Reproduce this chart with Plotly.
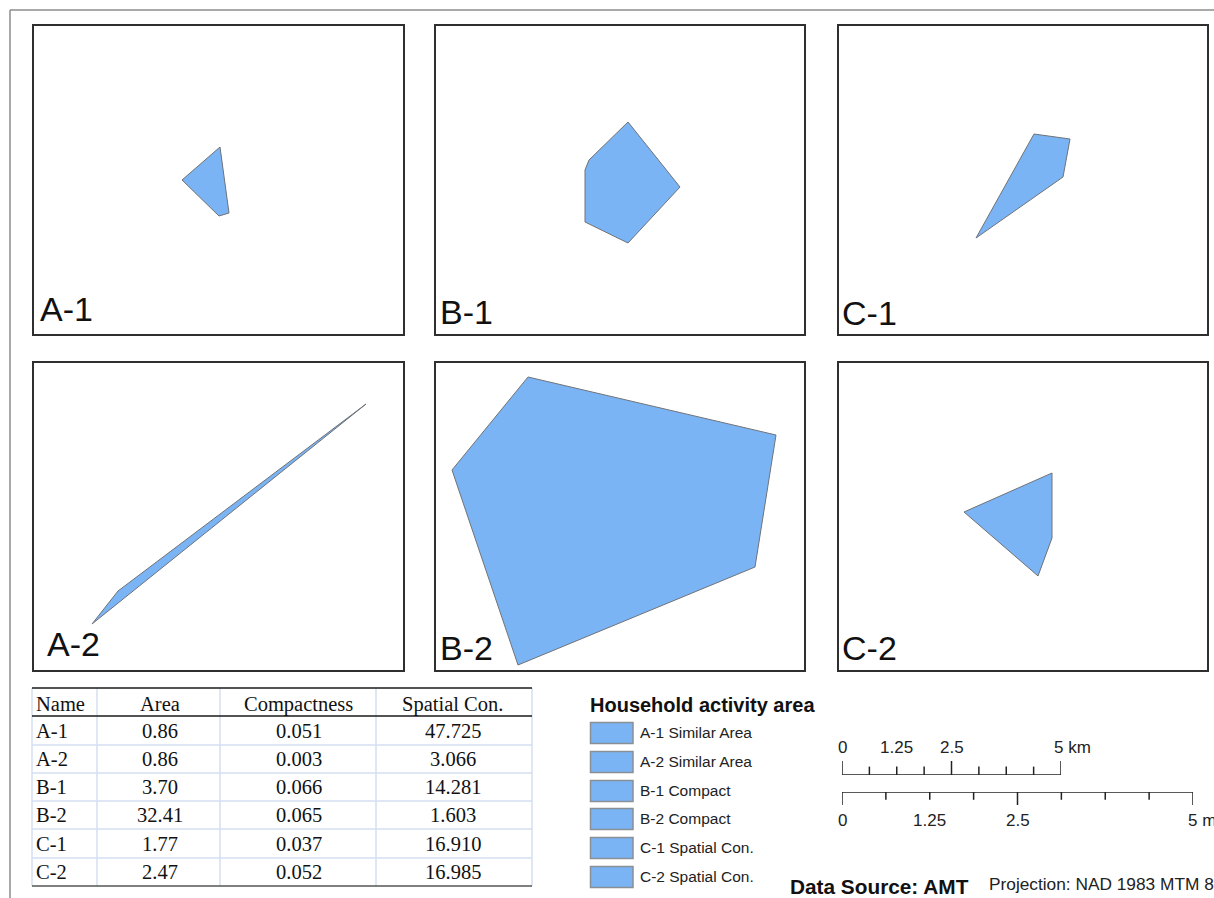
import plotly.graph_objects as go

W, H = 1214, 898
FILL = "#7ab4f5"
EDGE = "#6f7378"
SANS = "Liberation Sans, Arial, sans-serif"
SERIF = "Liberation Serif, Times New Roman, serif"

# Panels (map units, origin at the lower-left corner of each frame)
panel_names = ["A-1", "B-1", "C-1", "A-2", "B-2", "C-2"]
a1_x = [187, 149, 186, 196]
a1_y = [188, 155, 119, 122]
b1_x = [193, 245, 193, 150, 150, 154]
b1_y = [213, 148, 92, 113, 165, 175]
c1_x = [196, 232, 225, 138]
c1_y = [201, 196, 158, 97]
a2_x = [59, 85, 333]
a2_y = [47, 80, 267]
b2_x = [93, 341, 320, 83, 17]
b2_y = [294, 236, 104, 6, 201]
c2_x = [214, 126, 200, 214]
c2_y = [198, 159, 95, 133]
panel_xs = [a1_x, b1_x, c1_x, a2_x, b2_x, c2_x]
panel_ys = [a1_y, b1_y, c1_y, a2_y, b2_y, c2_y]

# Table
table_header = ["Name", "Area", "Compactness", "Spatial Con."]
table_names = ["A-1", "A-2", "B-1", "B-2", "C-1", "C-2"]
table_area = ["0.86", "0.86", "3.70", "32.41", "1.77", "2.47"]
table_compact = ["0.051", "0.003", "0.066", "0.065", "0.037", "0.052"]
table_spatial = ["47.725", "3.066", "14.281", "1.603", "16.910", "16.985"]

# Legend
legend_title = "Household activity area"
legend_labels = ["A-1 Similar Area", "A-2 Similar Area", "B-1 Compact",
                 "B-2 Compact", "C-1 Spatial Con.", "C-2 Spatial Con."]

# Scale bars
scale_ticks = [0, 0.625, 1.25, 1.875, 2.5, 3.125, 3.75, 4.375, 5]
scale_heights = [1, 0.6, 0.6, 0.6, 1, 0.6, 0.6, 0.6, 1]
scale_labels = [0, 1.25, 2.5, 5]
scale_text_km = ["0", "1.25", "2.5", "5 km"]
scale_text_mi = ["0", "1.25", "2.5", "5 m"]


def px(x):
    return x / W


def py(y):
    return 1 - y / H


def note(text, x, y, size, family=SANS, color="#111111", anchor="left", **kw):
    base = dict(text=text, xref="paper", yref="paper", x=px(x), y=py(y), xanchor=anchor,
                yanchor="middle", showarrow=False, borderpad=0, borderwidth=0,
                font=dict(family=family, size=size, color=color))
    base.update(kw)
    return base


fig = go.Figure()
shapes = []
ann = []

# Frames in figure pixels: left, right, top, bottom
frames = [(33, 404, 25, 335), (435, 805, 25, 335), (838, 1208, 25, 335),
          (33, 404, 362, 671), (435, 805, 362, 671), (838, 1208, 362, 671)]
label_pos = [(40, 309), (440, 312), (842, 313), (47, 644), (440, 648), (842, 648)]

layout_axes = {}
for i, (l, r, t, b) in enumerate(frames):
    k = i + 1
    sfx = "" if k == 1 else str(k)
    axis = dict(showgrid=False, zeroline=False, showticklabels=False, ticks="",
                showline=True, mirror=True, linecolor="#2f2f2f", linewidth=2,
                fixedrange=True)
    layout_axes["xaxis" + sfx] = dict(axis, domain=[px(l + 1), px(r - 1)], range=[1, r - l - 1],
                                      anchor="y" + sfx)
    layout_axes["yaxis" + sfx] = dict(axis, domain=[py(b - 1), py(t + 1)], range=[1, b - t - 1],
                                      anchor="x" + sfx)
    xs, ys = panel_xs[i], panel_ys[i]
    fig.add_trace(go.Scatter(x=xs + xs[:1], y=ys + ys[:1], mode="lines", fill="toself",
                             fillcolor=FILL, line=dict(color=EDGE, width=1),
                             name=panel_names[i], showlegend=False, hoverinfo="skip",
                             xaxis="x" + sfx, yaxis="y" + sfx))
    lx, ly = label_pos[i]
    ann.append(note(panel_names[i], lx, ly, 34))

# Outer neatline
for x0, y0, x1, y1 in [(10, 10, W, 10), (10, 10, 10, H)]:
    shapes.append(dict(type="line", xref="paper", yref="paper", x0=px(x0), y0=py(y0),
                       x1=px(x1), y1=py(y1), line=dict(color="#8c8c8c", width=1.5)))

# Table
col_edges = [32, 97, 220, 376, 532]
row_edges = [688, 716, 745, 773, 801, 829, 858, 886]
col_text_x = [36, 160, 298.5, 452.5]
row_text_y = [704, 731, 759, 787, 815, 844, 872]
GRID = "#d6dff0"
for x in col_edges:
    shapes.append(dict(type="line", xref="paper", yref="paper", x0=px(x), x1=px(x),
                       y0=py(row_edges[0]), y1=py(row_edges[-1]),
                       line=dict(color=GRID, width=1.5)))
for j, y in enumerate(row_edges):
    color, width = GRID, 1.5
    if j in (0, 1):
        color, width = "#1a1a1a", 1.5
    if j == len(row_edges) - 1:
        color, width = "#555555", 1.5
    shapes.append(dict(type="line", xref="paper", yref="paper", x0=px(32), x1=px(532),
                       y0=py(y), y1=py(y), line=dict(color=color, width=width)))
rows = [table_header] + [list(r) for r in zip(table_names, table_area, table_compact, table_spatial)]
for rj, row in enumerate(rows):
    for ci, val in enumerate(row):
        ann.append(note(val, col_text_x[ci], row_text_y[rj], 20.5, family=SERIF,
                        anchor="left" if ci == 0 else "center"))

# Legend
ann.append(note("<b>%s</b>" % legend_title, 590, 705, 20))
legend_y = [733, 762, 791, 819, 848, 877]
for lab, y in zip(legend_labels, legend_y):
    shapes.append(dict(type="rect", xref="paper", yref="paper", x0=px(590.5), x1=px(633),
                       y0=py(y - 10.5), y1=py(y + 10.5), fillcolor=FILL,
                       line=dict(color="#8a8f96", width=1.5)))
    ann.append(note(lab, 640, y - 0.5, 15.5, color="#222222"))

# Scale bars: each has its own axis in map units
scales = [
    ("7", (842, 1061), (761, 775), scale_text_km, 747, -7),
    ("8", (842, 1193), (792, 805), scale_text_mi, 820, -5),
]
for sfx, (l, r), (t, b), texts, ty, shift in scales:
    hidden = dict(visible=False, fixedrange=True)
    up = sfx == "7"
    layout_axes["xaxis" + sfx] = dict(hidden, domain=[px(l), px(r)], range=[0, 5], anchor="y" + sfx)
    layout_axes["yaxis" + sfx] = dict(hidden, domain=[py(b), py(t)],
                                      range=[0, 1] if up else [1, 0], anchor="x" + sfx)
    sx, sy = [0, 5, None], [0, 0, None]
    for v, h in zip(scale_ticks, scale_heights):
        sx += [v, v, None]
        sy += [0, h, None]
    fig.add_trace(go.Scatter(x=sx, y=sy, mode="lines", line=dict(color="#222222", width=1.5),
                             showlegend=False, hoverinfo="skip", cliponaxis=False,
                             xaxis="x" + sfx, yaxis="y" + sfx))
    for v, txt in zip(scale_labels, texts):
        last = v == 5
        ann.append(dict(text=txt, xref="x" + sfx, yref="paper", x=v, y=py(ty),
                        xanchor="left" if last else "center", xshift=shift if last else 0,
                        yanchor="middle", showarrow=False, borderpad=0, borderwidth=0,
                        font=dict(family=SANS, size=17, color="#222222")))

# Source / projection notes
ann.append(note("<b>Data Source: AMT</b>", 790, 886, 20.8))
ann.append(note("Projection: NAD 1983 MTM 8", 989, 884, 17.3, color="#222222"))

fig.update_layout(width=W, height=H, margin=dict(l=0, r=0, t=0, b=0), autosize=False,
                  paper_bgcolor="white", plot_bgcolor="white", showlegend=False,
                  shapes=shapes, annotations=ann, **layout_axes)
fig.write_html("out.html", config={"displayModeBar": False},
               post_script="document.body.style.margin='0';document.body.style.overflow='hidden';")
